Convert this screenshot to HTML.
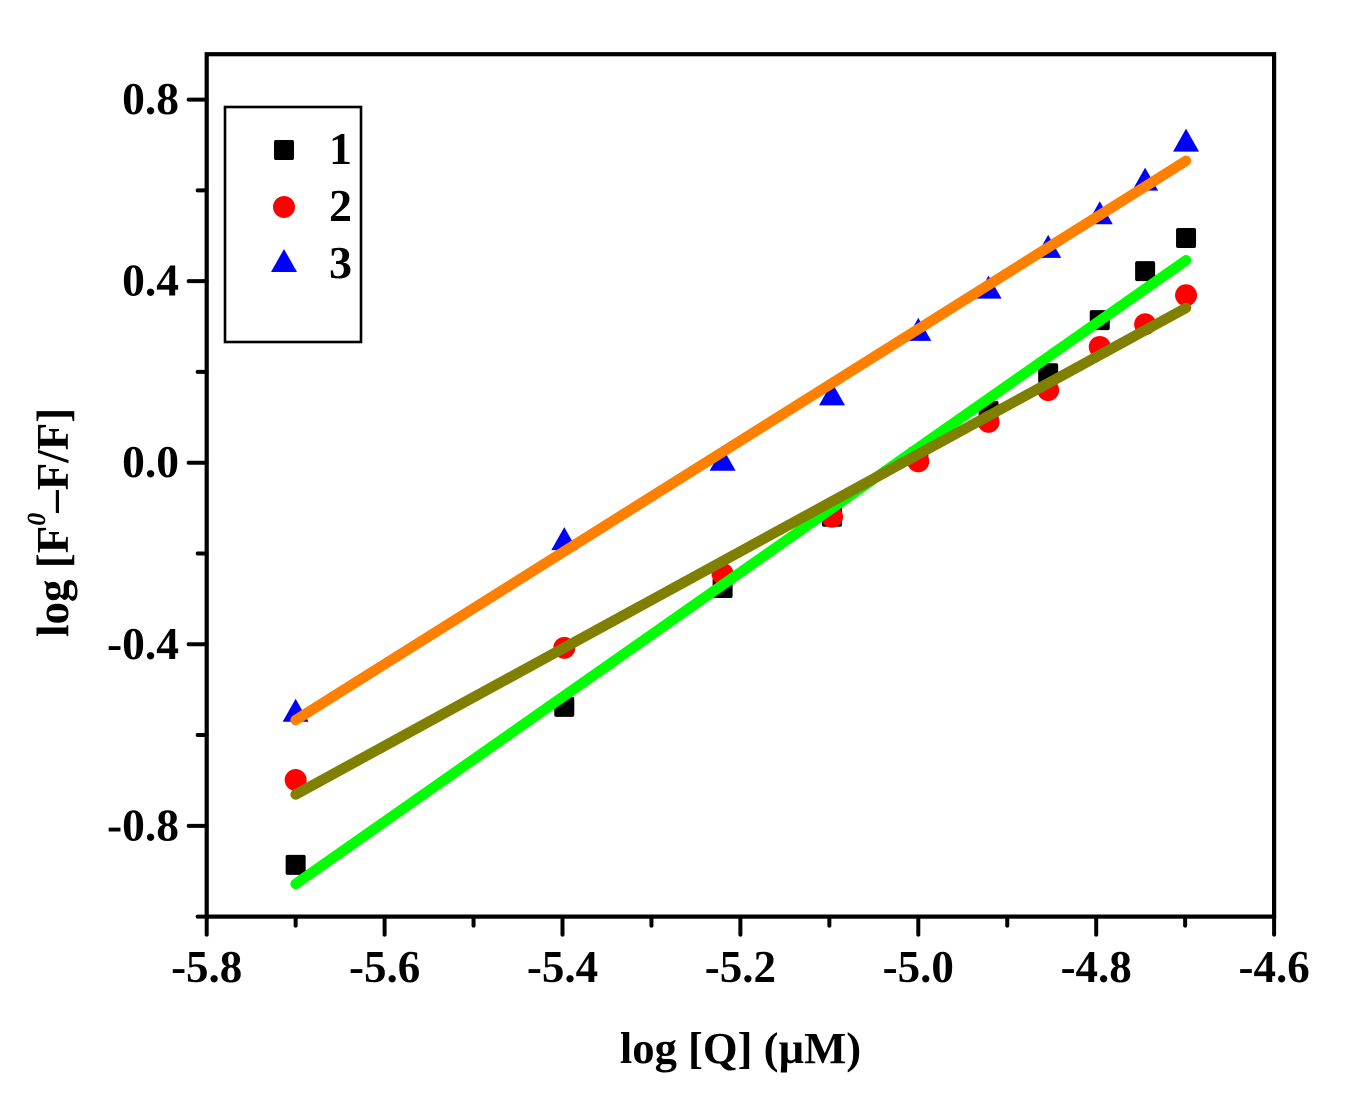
<!DOCTYPE html>
<html>
<head>
<meta charset="utf-8">
<title>log [F0-F/F] vs log [Q]</title>
<style>
html,body{margin:0;padding:0;background:#fff;}
svg{display:block;}
text{font-family:"Liberation Serif","Noto Serif CJK SC",serif;font-weight:bold;fill:#000;}
</style>
</head>
<body>
<svg id="chart" xmlns="http://www.w3.org/2000/svg" width="1349" height="1104" viewBox="0 0 1349 1104">
  <rect x="0" y="0" width="1349" height="1104" fill="#fff"/>
  <g id="markers"></g>
  <g id="fits"></g>
  <g id="axes"></g>
  <text x="740.5" y="1063" font-size="44.6" text-anchor="middle">log [Q] (µM)</text>
  <text transform="translate(68,637) rotate(-90)" font-size="45">log [F<tspan font-size="26" font-style="italic" dy="-23">0</tspan><tspan dy="23">–F/F]</tspan></text>
  <g>
    <rect x="225" y="107" width="136" height="235" fill="#fff" stroke="#000" stroke-width="2.6"/>
    <rect x="274" y="140" width="20" height="20" rx="2" fill="#000"/>
    <circle cx="284" cy="207" r="11" fill="#ff0000"/>
    <polygon points="284,249 297,272 271,272" fill="#0000ff"/>
    <text x="329" y="164" font-size="46">1</text>
    <text x="329" y="221" font-size="46">2</text>
    <text x="329" y="278" font-size="46">3</text>
  </g>
</svg>
<script>
const xValues = [-5.7, -5.398, -5.22, -5.097, -5.0, -4.921, -4.854, -4.796, -4.745, -4.699];
const series1 = [-0.886, -0.538, -0.276, -0.119, 0.012, 0.114, 0.197, 0.314, 0.422, 0.495];
const series2 = [-0.699, -0.408, -0.245, -0.119, 0.003, 0.090, 0.160, 0.255, 0.305, 0.369];
const series3 = [-0.553, -0.175, 0.000, 0.144, 0.286, 0.379, 0.469, 0.543, 0.617, 0.703];
const fitX = [-5.7, -4.699];
const fit1 = [-0.928, 0.446];
const fit2 = [-0.731, 0.341];
const fit3 = [-0.567, 0.665];
const xTicksMajor = [-5.8, -5.6, -5.4, -5.2, -5.0, -4.8, -4.6];
const xTickLabels = ['-5.8', '-5.6', '-5.4', '-5.2', '-5.0', '-4.8', '-4.6'];
const xTicksMinor = [-5.7, -5.5, -5.3, -5.1, -4.9, -4.7];
const yTicksMajor = [0.8, 0.4, 0.0, -0.4, -0.8];
const yTickLabels = ['0.8', '0.4', '0.0', '-0.4', '-0.8'];
const yTicksMinor = [0.6, 0.2, -0.2, -0.6, -1.0];
const xDomain = [-5.8, -4.6];
const yDomain = [-1.0, 0.9];

const NS = 'http://www.w3.org/2000/svg';
const plotLeft = 206.7, plotRight = 1274.1, plotBottom = 916.6, plotTop = 54.2;
function xScale(v) { return plotLeft + (v - xDomain[0]) / (xDomain[1] - xDomain[0]) * (plotRight - plotLeft); }
function yScale(v) { return plotBottom - (v - yDomain[0]) / (yDomain[1] - yDomain[0]) * (plotBottom - plotTop); }
function make(tag, parent) {
  const el = document.createElementNS(NS, tag);
  parent.appendChild(el);
  return el;
}
function setAll(el, attrs) {
  for (const k in attrs) el.setAttribute(k, attrs[k]);
}

const markers = document.getElementById('markers');
const fits = document.getElementById('fits');
const axes = document.getElementById('axes');

series1.forEach(function (v, i) {
  const el = make('rect', markers);
  
  
  setAll(el, { x: xScale(xValues[i]) - 10, y: yScale(v) - 10, width: 20, height: 20, rx: 2, fill: '#000000' });
});
series2.forEach(function (v, i) {
  const el = make('circle', markers);
  
  
  setAll(el, { cx: xScale(xValues[i]), cy: yScale(v), r: 11, fill: '#ff0000' });
});
series3.forEach(function (v, i) {
  const el = make('polygon', markers);
  
  
  const cx = xScale(xValues[i]), cy = yScale(v);
  setAll(el, { points: cx + ',' + (cy - 15) + ' ' + (cx + 13) + ',' + (cy + 8) + ' ' + (cx - 13) + ',' + (cy + 8), fill: '#0000ff' });
});

function drawFit(values, color, name) {
  const el = make('line', fits);
  
  
  setAll(el, { x1: xScale(fitX[0]), y1: yScale(values[0]), x2: xScale(fitX[1]), y2: yScale(values[1]), stroke: color, 'stroke-width': 10.5, 'stroke-linecap': 'round' });
}
drawFit(fit1, '#00ff00', 'fit-line-1');
drawFit(fit2, '#808000', 'fit-line-2');
drawFit(fit3, '#ff8000', 'fit-line-3');

const frame = make('rect', axes);


setAll(frame, { x: plotLeft, y: plotTop, width: plotRight - plotLeft, height: plotBottom - plotTop, fill: 'none', stroke: '#000', 'stroke-width': 4.2 });

function tickLine(x1, y1, x2, y2, name) {
  const el = make('line', axes);
  
  
  setAll(el, { x1: x1, y1: y1, x2: x2, y2: y2, stroke: '#000', 'stroke-width': 4, 'stroke-linecap': 'round' });
}
xTicksMajor.forEach(function (v, i) {
  tickLine(xScale(v), plotBottom, xScale(v), plotBottom + 18, 'x-tick-major');
  const t = make('text', axes);
  
  
  setAll(t, { x: xScale(v), y: 982, 'font-size': 45, 'text-anchor': 'middle' });
  t.textContent = xTickLabels[i];
});
xTicksMinor.forEach(function (v) {
  tickLine(xScale(v), plotBottom, xScale(v), plotBottom + 9, 'x-tick-minor');
});
yTicksMajor.forEach(function (v, i) {
  tickLine(plotLeft, yScale(v), plotLeft - 18, yScale(v), 'y-tick-major');
  const t = make('text', axes);
  
  
  setAll(t, { x: 179, y: yScale(v) + 14.5, 'font-size': 45.5, 'text-anchor': 'end' });
  t.textContent = yTickLabels[i];
});
yTicksMinor.forEach(function (v) {
  tickLine(plotLeft, yScale(v), plotLeft - 9, yScale(v), 'y-tick-minor');
});
</script>
</body>
</html>
